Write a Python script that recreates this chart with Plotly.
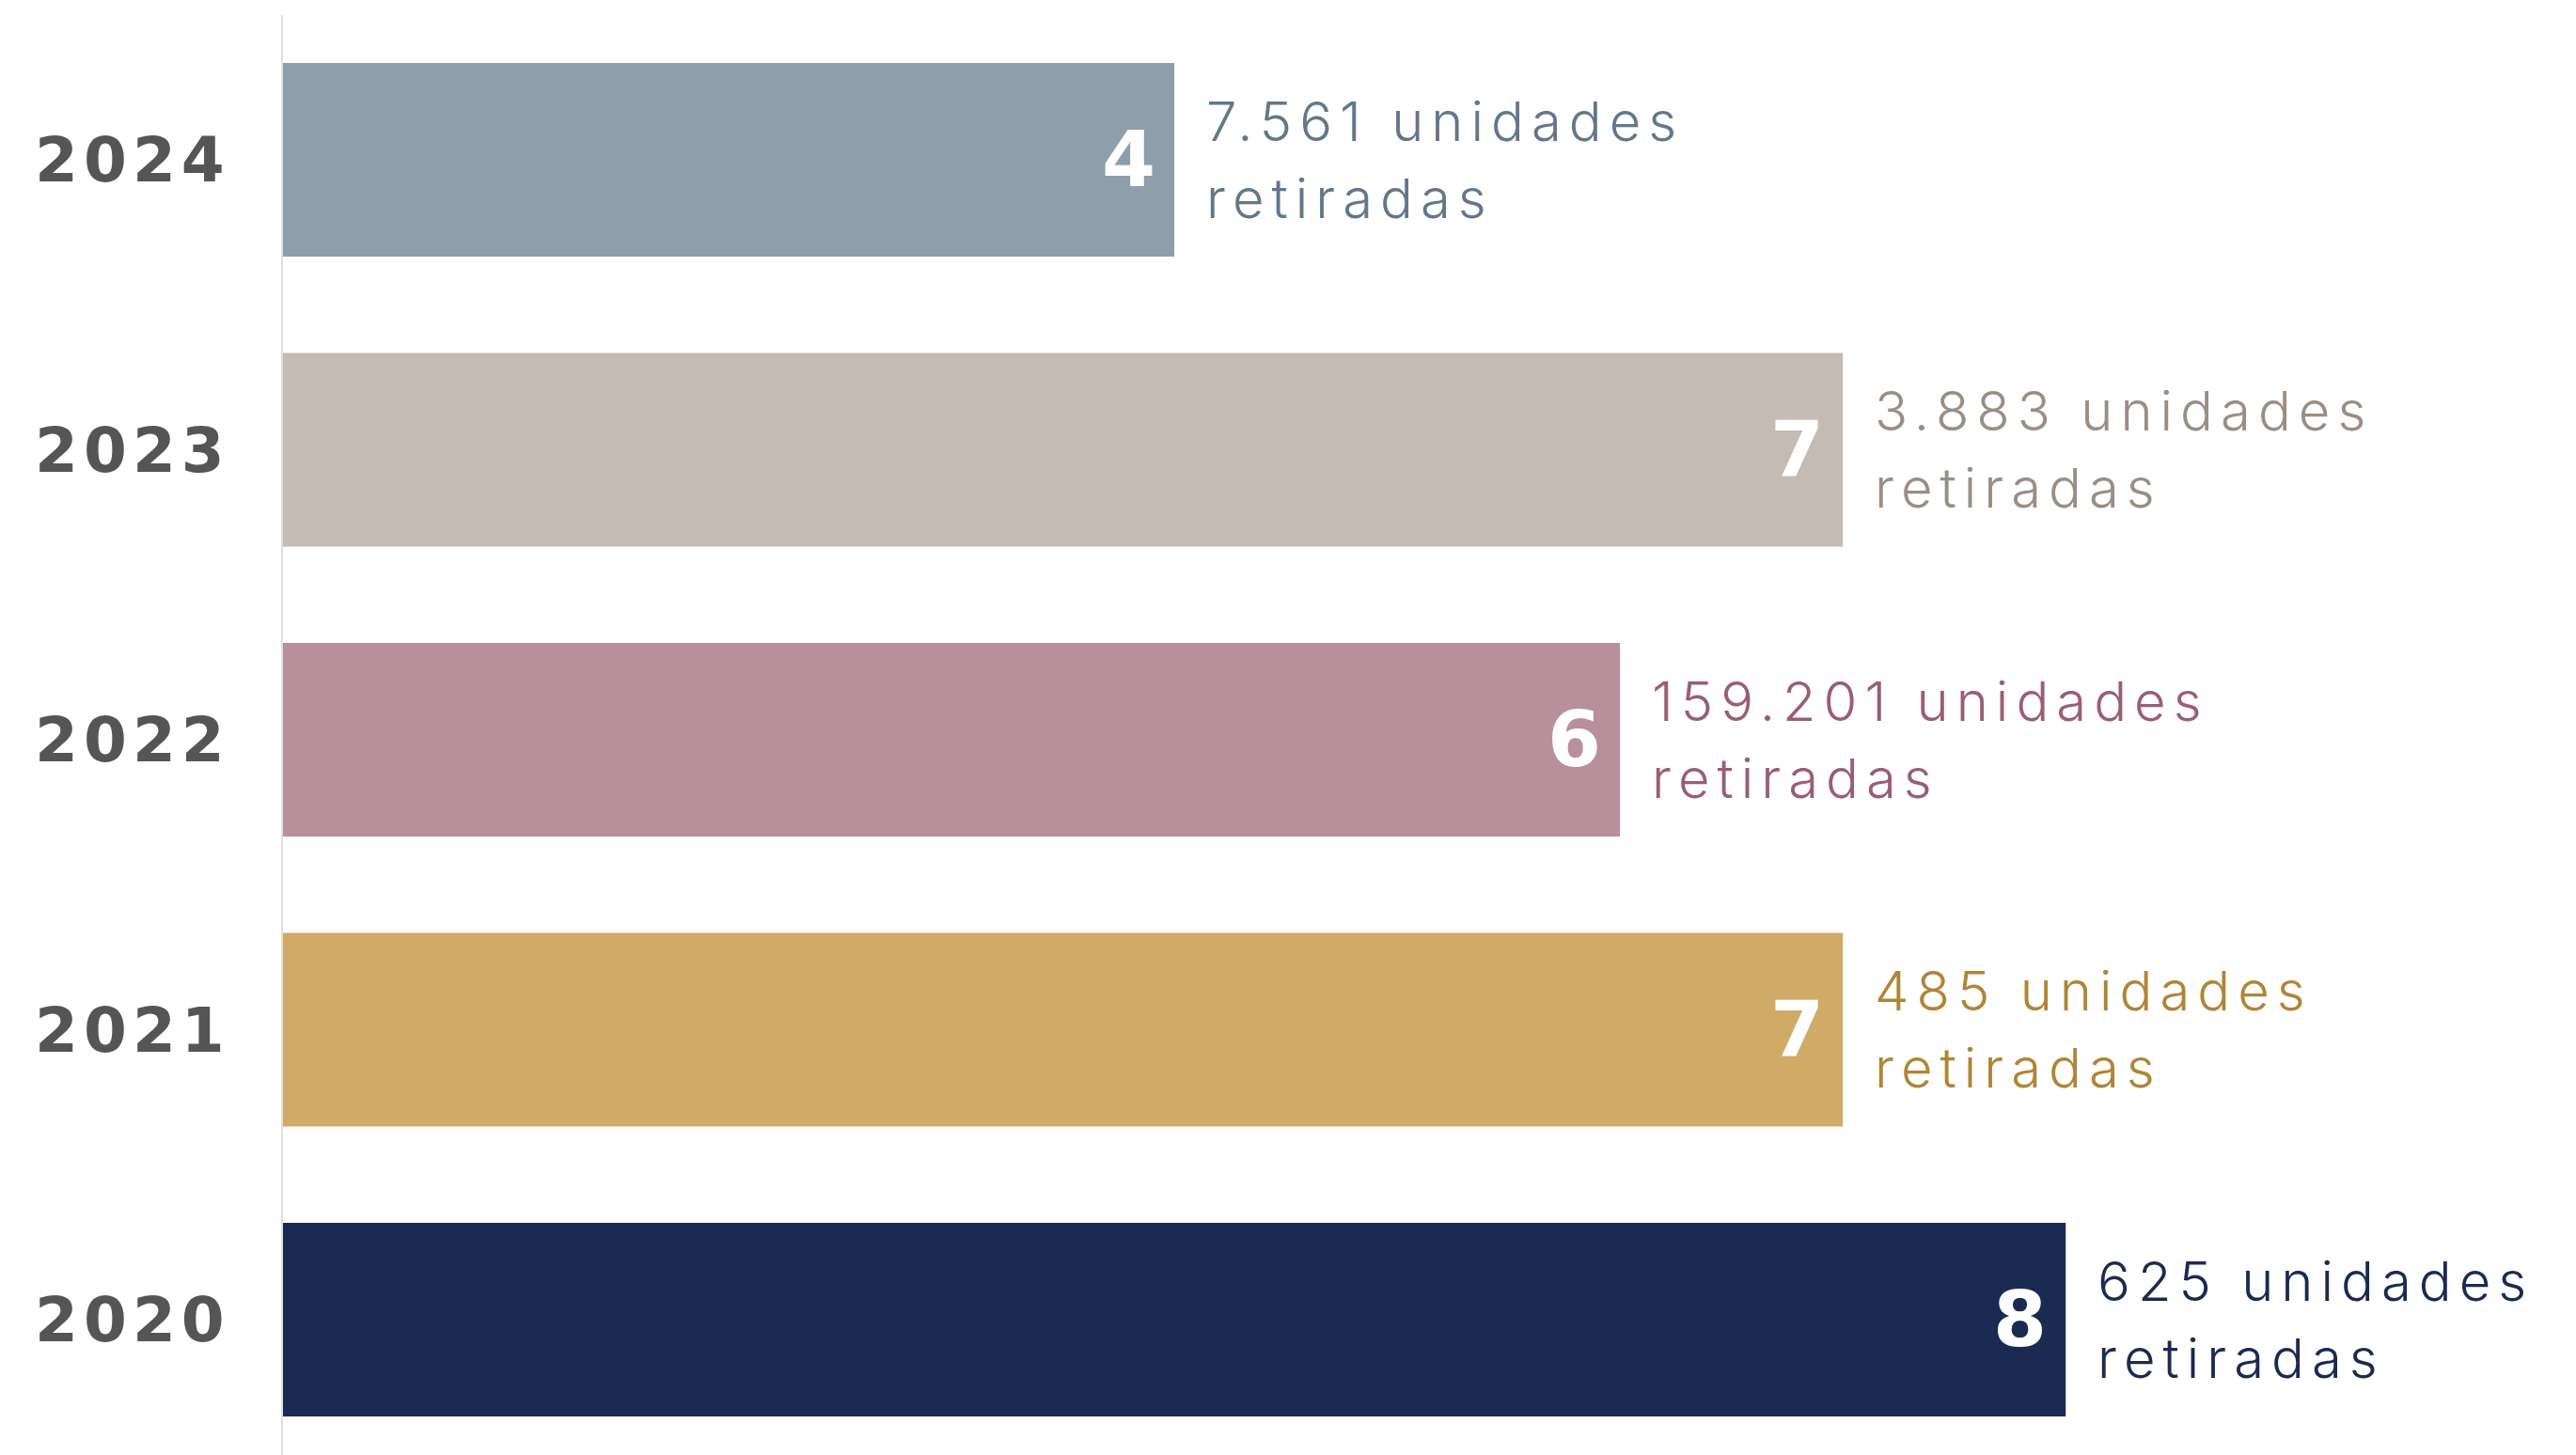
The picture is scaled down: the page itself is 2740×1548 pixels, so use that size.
import plotly.graph_objects as go

years = ["2020", "2021", "2022", "2023", "2024"]
counts = [8, 7, 6, 7, 4]
units = ["625", "485", "159.201", "3.883", "7.561"]
unit_word = "unidades"
unit_word2 = "retiradas"

bar_colors = ["#1b2a52", "#cfab67", "#b8909b", "#c3bbb4", "#8f9eab"]
text_colors = ["#1b2a52", "#b08536", "#9a5e72", "#9a8e84", "#647789"]

fig = go.Figure()
fig.add_trace(go.Bar(
    x=counts, y=years, orientation="h",
    marker=dict(color=bar_colors, line=dict(width=0)),
    hoverinfo="skip", showlegend=False,
))

annotations = []
for i, (c, u, tc) in enumerate(zip(counts, units, text_colors)):
    annotations.append(dict(
        x=c, y=i, xref="x", yref="y", xanchor="right", yanchor="middle",
        xshift=-18, showarrow=False, text=str(c),
        font=dict(family="DejaVu Sans", size=82, color="white", weight="bold"),
    ))
    annotations.append(dict(
        x=c, y=i, xref="x", yref="y", xanchor="left", yanchor="middle",
        xshift=32, showarrow=False, align="left",
        text=(f'<span style="font-size:58px;letter-spacing:8px">{u} {unit_word}</span><br>'
              f'<span style="font-size:58px;letter-spacing:8px">{unit_word2}</span>'),
        font=dict(family="Inter", size=63, color=tc, weight=300),
    ))

fig.update_layout(
    width=2732, height=1540,
    margin=dict(l=293, r=0, t=8, b=0),
    plot_bgcolor="white", paper_bgcolor="white",
    bargap=0.332,
    annotations=annotations,
    xaxis=dict(range=[0, 10.29], visible=False, showgrid=False, zeroline=False),
    yaxis=dict(
        type="category", categoryorder="array", categoryarray=years,
        range=[-0.467, 4.499],
        showgrid=False, zeroline=False,
        showline=True, linecolor="#e0e0e0", linewidth=2,
        ticks="", ticklabelstandoff=41,
        tickvals=years,
        ticktext=[f'<span style="letter-spacing:6px">{y}</span>' for y in years],
        tickfont=dict(family="DejaVu Sans", size=66, color="#555555", weight="bold"),
    ),
)

fig.write_html("out.html")
